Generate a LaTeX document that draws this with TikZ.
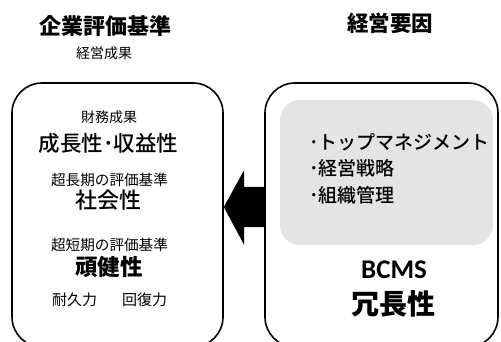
\documentclass[tikz,border=0pt]{standalone}
\usepackage{fontspec}
\usetikzlibrary{calc}
\newfontfamily\jp{Noto Sans CJK JP}
\newfontfamily\jpm{Noto Sans CJK JP Medium}
\newfontfamily\latinb{Carlito}
\definecolor{panel}{RGB}{228,228,228}
\tikzset{
  box/.style={draw=black, line width=1.6pt, rounded corners=30pt, fill=white},
  inner/.style={fill=panel, rounded corners=20pt},
  txt/.style={inner sep=0pt, text=black},
  fs/.style={font=\jp\fontsize{#1}{#1}\selectfont},
  fsm/.style={font=\jpm\fontsize{#1}{#1}\selectfont},
  fsb/.style={font=\jp\bfseries\fontsize{#1}{#1}\selectfont},
}
\begin{document}
\begin{tikzpicture}[x=1pt,y={(0pt,-1pt)}]
\useasboundingbox (0,0) rectangle (501,342);
\clip (0,0) rectangle (501,342);
% boxes
\node[box, minimum width=211pt, minimum height=264pt, inner sep=0pt] (lbox) at (117.5,215) {};
\node[box, minimum width=233pt, minimum height=264pt, inner sep=0pt] (rbox) at (381.5,215) {};
\node[inner, minimum width=213pt, minimum height=145pt, inner sep=0pt] (panel) at (386.5,172.5) {};
% arrow
\coordinate (ab) at (rbox.west |- 0,207);
\coordinate (at) at (lbox.east |- 0,207);
\fill[black] ($(ab)+(0,-20)$) -- ++(-20,0) -- ++(0,-17) -- (at) -- ($(ab)+(-20,38)$) -- ++(0,-18) -- ($(ab)+(0,20)$) -- cycle;
% headings
\node[txt, fsb=22] (h1) at (105.5,26) {企業評価基準};
\node[txt, fs=14] (h1s) at (104,53) {経営成果};
\node[txt, fsb=21.5] (h2) at (390,23) {経営要因};
% left box text
\node[txt, fs=14] (t1) at (109,117) {財務成果};
\node[txt, fsm=21.5] (t2) at (108.5,143.5) {成長性･収益性};
\node[txt, fs=14.6] (t3) at (109.5,179.5) {超長期の評価基準};
\node[txt, fsm=22] (t4) at (108.5,200) {社会性};
\node[txt, fs=14.6] (t5) at (109.5,245) {超短期の評価基準};
\node[txt, fsb=22.5] (t6) at (109,267) {頑健性};
\node[txt, fs=15] (t7) at (74.5,300) {耐久力};
\node[txt, fs=15] (t8) at (144.5,300) {回復力};
% right box text
\node[txt, anchor=west, fsm=19] (r1) at (309,142.5) {･トップマネジメント};
\node[txt, anchor=west, fsm=19] (r2) at (309,168.5) {･経営戦略};
\node[txt, anchor=west, fsm=19] (r3) at (309,195) {･組織管理};
\node[txt, font=\latinb\bfseries\fontsize{27}{27}\selectfont] (r4) at (394,270) {BCMS};
\node[txt, fsb=28] (r5) at (393.5,303.5) {冗長性};
\end{tikzpicture}
\end{document}
